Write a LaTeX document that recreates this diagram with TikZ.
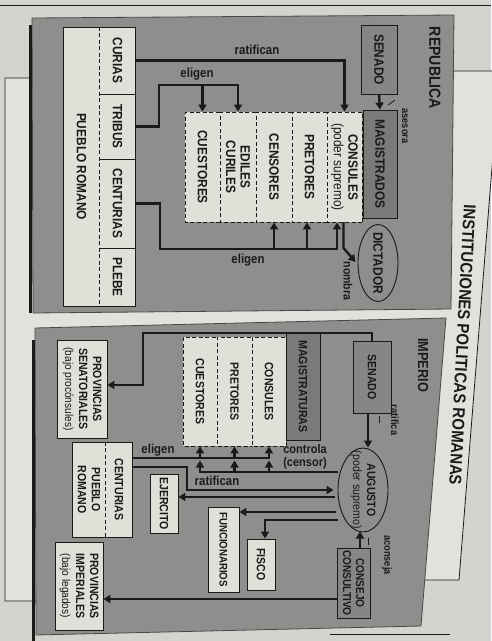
\documentclass[tikz,border=0pt]{standalone}
\usepackage{fontspec}
\setmainfont{Liberation Sans}[FakeStretch=0.88]
\usetikzlibrary{arrows.meta,shapes.geometric,calc}

\definecolor{pagebg}{RGB}{212,212,206}
\definecolor{framebg}{RGB}{226,226,220}
\definecolor{panelgray}{RGB}{142,142,140}
\definecolor{boxgray}{RGB}{134,134,132}
\definecolor{darkbox}{RGB}{122,122,120}
\definecolor{lightfill}{RGB}{224,224,216}
\definecolor{ink}{RGB}{26,26,26}

\tikzset{
  repfont/.style={font=\fontsize{13.5}{14.5}\selectfont\bfseries},
  impfont/.style={font=\fontsize{12}{14}\selectfont\bfseries},
  solidbox/.style={draw=ink, line width=0.9pt, inner sep=0pt, align=center, text=ink},
  graybox/.style={solidbox, fill=boxgray},
  lightbox/.style={solidbox, fill=lightfill},
  dashcell/.style={solidbox, fill=lightfill, dash pattern=on 4pt off 2.5pt},
  textcell/.style={inner sep=0pt, align=center, text=ink},
  oval/.style={ellipse, solidbox, fill=panelgray},
  lbl/.style={font=\fontsize{13}{13}\selectfont\bfseries, text=ink, inner sep=0pt},
  minilbl/.style={font=\fontsize{10.5}{11}\selectfont\bfseries, text=ink, inner sep=0pt},
  link/.style={draw=ink, line width=2.4pt},
  arr/.style={link, -{Triangle[length=7pt,width=8pt]}},
  tickmark/.style={draw=ink, line width=0.8pt},
}

\begin{document}
\begin{tikzpicture}[x=1pt, y=1pt, rotate=-90, transform shape]
\useasboundingbox (0,0) rectangle (641,491);

% fondo y pagina
\fill[pagebg] (0,0) rectangle (641,491);
\draw[ink, line width=0.9pt] (5,0) -- (5,491);
\draw[ink, line width=0.9pt] (634,330) -- (634,450);
\filldraw[fill=framebg, draw=ink, line width=0.8pt] (78,5) -- (78,240) -- (71,240) -- (71,495) -- (130,495)
  -- (580,459) -- (580,240) -- (601,240) -- (601,5) -- cycle;
\node[font=\fontsize{17}{17}\selectfont\bfseries, text=ink, rotate=-3] (titulo) at (345,462.5) {INSTITUCIONES POLITICAS ROMANAS};

% paneles
\filldraw[fill=panelgray, draw=ink!80, line width=0.8pt] (18,32) -- (15,454) -- (309,451) -- (313,33) -- cycle;
\draw[ink, line width=3pt] (25,30) -- (313,30);
\filldraw[fill=panelgray, draw=ink!80, line width=0.8pt] (328,35) -- (318,446) -- (626,421) -- (635,36) -- cycle;
\draw[ink, line width=3pt] (340,33) -- (645,33);

%%% REPUBLICA
\node[font=\fontsize{16}{16}\selectfont\bfseries, text=ink] (republica) at (68,435) {REPUBLICA};
\node[graybox, repfont, minimum width=69pt, minimum height=36pt] (senadoR) at (59.5,379) {SENADO};
\node[solidbox, fill=darkbox, repfont, minimum width=108pt, minimum height=34pt] (magR) at (164,380) {MAGISTRADOS};

% magistraturas de la republica
\node[dashcell, repfont, minimum width=110pt, minimum height=35pt] (cuestR) at (167,202.5) {CUESTORES};
\node[dashcell, repfont, minimum width=110pt, minimum height=36pt] (edilR) at (167,238) {EDILES\\CURILES};
\node[dashcell, repfont, minimum width=110pt, minimum height=36pt] (censR) at (167,274) {CENSORES};
\node[dashcell, repfont, minimum width=110pt, minimum height=35pt] (pretR) at (167,309.5) {PRETORES};
\node[dashcell, repfont, minimum width=110pt, minimum height=35pt] (consR) at (167,344.5) {CONSULES\\{\mdseries (poder supremo)}};

% pueblo romano
\filldraw[fill=lightfill, draw=ink, line width=0.9pt] (27,63) rectangle (306,135);
\node[textcell, repfont, minimum width=279pt, minimum height=37pt] (puebloR) at (166.5,81.5) {PUEBLO ROMANO};
\node[textcell, repfont, minimum width=67pt, minimum height=35pt] (curias) at (60.5,117.5) {CURIAS};
\node[textcell, repfont, minimum width=65pt, minimum height=35pt] (tribus) at (126.5,117.5) {TRIBUS};
\node[textcell, repfont, minimum width=89pt, minimum height=35pt] (centR) at (203.5,117.5) {CENTURIAS};
\node[textcell, repfont, minimum width=58pt, minimum height=35pt] (plebe) at (277,117.5) {PLEBE};
\draw[ink, line width=0.9pt, dash pattern=on 4pt off 2.5pt] (curias.south west) -- (plebe.south east);
\draw[ink, line width=0.9pt] (curias.south east) -- (curias.north east);
\draw[ink, line width=0.9pt] (tribus.south east) -- (tribus.north east);
\draw[ink, line width=0.9pt] (centR.south east) -- (centR.north east);

\node[oval, repfont, minimum width=77pt, minimum height=40pt, inner xsep=-5pt] (dictador) at (263,378) {DICTADOR};

% conexiones republica
\draw[arr] (senadoR.east) -- (magR.west);
\draw[tickmark] (105,388) -- (100,395);
\node[minilbl] (asesora) at (126,405) {asesora};

\draw[arr] (curias.north) |- (consR.west);
\node[lbl, rotate=90] (ratifR) at (50,257) {ratifican};

\draw[arr] (tribus.north) -- (126.5,159) -- (85,159) -- (85,238) -- (edilR.west);
\draw[arr] (85,202.5) -- (cuestR.west);
\node[lbl, rotate=90] (eligR1) at (74,197) {eligen};

\draw[arr] (centR.north) -- (203.5,160) -- (249,160) -- (249,337) -- ($(consR.east)+(0,-7.5)$);
\draw[arr] (249,274) -- (censR.east);
\draw[arr] (249,307) -- ($(pretR.east)+(0,-2.5)$);
\node[lbl, rotate=90] (eligR2) at (260,248) {eligen};

\draw[arr] ($(consR.east)+(0,-1)$) -- (248,343.5) -- ($(dictador.south)+(-1,-2)$);
\node[lbl, font=\fontsize{12}{12}\selectfont\bfseries] (nombra) at (281,348) {nombra};

%%% IMPERIO
\node[font=\fontsize{14.5}{14.5}\selectfont\bfseries, text=ink] (imperio) at (365,423) {IMPERIO};
\node[graybox, impfont, minimum width=72pt, minimum height=38pt] (senadoI) at (377,372) {SENADO};
\node[solidbox, fill=darkbox, impfont, minimum width=107pt, minimum height=34pt] (magI) at (386.5,303) {MAGISTRATURAS};
\node[dashcell, impfont, minimum width=109pt, minimum height=34pt] (cuestI) at (391.5,200) {CUESTORES};
\node[dashcell, impfont, minimum width=109pt, minimum height=35pt] (pretI) at (391.5,234.5) {PRETORES};
\node[dashcell, impfont, minimum width=109pt, minimum height=34pt] (consI) at (391.5,269) {CONSULES};

\node[lightbox, impfont, minimum width=98pt, minimum height=50pt] (provSen) at (389,82)
  {PROVINCIAS\\SENATORIALES\\{\mdseries\fontsize{11.5}{13}\selectfont (bajo procónsules)}};
\node[lightbox, impfont, minimum width=88pt, minimum height=48pt] (provImp) at (586,79)
  {PROVINCIAS\\IMPERIALES\\{\mdseries\fontsize{11.5}{13}\selectfont (bajo legados)}};

\filldraw[fill=lightfill, draw=ink, line width=0.9pt] (442,72) rectangle (537,132);
\node[textcell, impfont, minimum width=95pt, minimum height=26pt] (centuriasI) at (489.5,119) {CENTURIAS};
\node[textcell, impfont, minimum width=95pt, minimum height=34pt] (puebloI) at (489.5,89) {PUEBLO\\ROMANO};
\draw[ink, line width=0.9pt, dash pattern=on 4pt off 2.5pt] (centuriasI.south west) -- (centuriasI.south east);

\node[lightbox, impfont, minimum width=59pt, minimum height=28pt] (ejercito) at (503.5,164) {EJERCITO};
\node[lightbox, impfont, font=\fontsize{11}{13}\selectfont\bfseries, minimum width=85pt, minimum height=31pt] (funcion) at (549.5,223.5) {FUNCIONARIOS};
\node[lightbox, impfont, minimum width=51pt, minimum height=28pt] (fisco) at (564.5,261) {FISCO};
\node[graybox, impfont, font=\fontsize{11.5}{13}\selectfont\bfseries, minimum width=70pt, minimum height=33pt] (consejo) at (583,353.5) {CONSEJO\\CONSULTIVO};
\node[oval, impfont, minimum width=84pt, minimum height=50pt, inner xsep=-13pt] (augusto) at (490,363) {AUGUSTO\\{\mdseries (poder supremo)}};

% conexiones imperio
\draw[arr] (senadoI.west) -- (333,372) -- (333,143) -- (385,143) -- ($(provSen.north)+(-4,0)$);

\draw[arr] ($(senadoI.east)+(0,-4)$) -- ($(augusto.west)+(0,5)$);
\draw[tickmark] (416,379) -- (423,379);
\node[minilbl] (ratifica) at (420,395) {ratifica};

\draw[arr] ($(consejo.west)+(0,6.5)$) -- ++(-16,0);
\draw[tickmark] (538,368) -- (545,368);
\node[minilbl] (aconseja) at (555,387) {aconseja};

\draw[arr] ($(consejo.south)+(16,0)$) -- ($(provImp.north)+(13,0)$);

\draw[arr] ($(centuriasI.north)+(-31.5,0)$) -- (458,269) -- (consI.east);
\draw[arr] (458,200) -- (cuestI.east);
\draw[arr] (458,234.5) -- (pretI.east);
\node[lbl, rotate=90] (eligI) at (450,158) {eligen};

\draw[arr] ($(augusto.south)+(-18,0)$) -- (472,200) -- (460.5,200);
\draw[arr] (472,234.5) -- (460.5,234.5);
\draw[arr] (472,269) -- (460.5,269);
\node[lbl, rotate=90, align=left, font=\fontsize{12.5}{12.5}\selectfont\bfseries] (controla) at (457,305) {controla\\(censor)};

\draw[arr] ($(centuriasI.north)+(-22.5,0)$) -- (467,187) -- (490,187) -- ($(augusto.south)+(0,-4)$);
\node[lbl, rotate=90] (ratifI) at (481,217) {ratifican};

\draw[arr] ($(augusto.south)+(7,-3)$) -- ($(ejercito.north)+(-6.5,0)$);
\draw[arr] ($(augusto.south)+(22,-2)$) -- ($(funcion.north)+(-37.5,0)$);
\draw[arr] ($(augusto.south)+(30,0)$) |- ($(fisco.west)+(0,4)$);

\end{tikzpicture}
\end{document}
